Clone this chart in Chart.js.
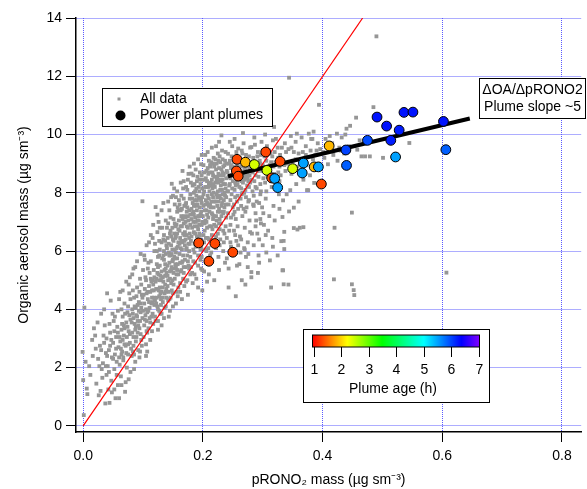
<!DOCTYPE html>
<html>
<head>
<meta charset="utf-8">
<script src="https://cdn.jsdelivr.net/npm/chart.js@4.4.0/dist/chart.umd.min.js"></script>
<style>
  html, body { margin: 0; padding: 0; background: #fff; }
  #wrap { width: 587px; height: 489px; }
</style>
</head>
<body>
<div id="wrap"><canvas id="chart" width="587" height="489"></canvas></div>
<script>
// ---------- Data ----------
const xTicks = [0, 0.2, 0.4, 0.6, 0.8];
const yTicks = [0, 2, 4, 6, 8, 10, 12, 14];
const ageTicks = [1, 2, 3, 4, 5, 6, 7];

// all data (pRONO2, OA)
const allData = [
  [0.001,0.37],[0.000,1.57],[0.006,1.28],[0.007,1.09],[-0.001,2.54],[0.002,4.06],[0.010,2.05],[0.015,2.95],[0.012,1.75],[0.018,3.35],[0.004,2.20],
  [0.022,1.45],[0.025,2.30],[0.028,2.75],[0.031,1.95],[0.034,3.10],[0.037,0.77],[0.038,2.50],[0.024,3.55],[0.033,2.15],[0.029,1.20],[0.036,3.45],[0.039,1.75],
  [0.044,0.79],[0.041,2.05],[0.043,2.60],[0.045,3.20],[0.047,1.55],[0.048,2.35],[0.050,2.85],[0.051,3.60],[0.052,1.95],[0.053,2.45],[0.055,3.05],[0.056,2.20],[0.057,3.40],[0.058,1.40],[0.059,2.70],[0.046,4.30],[0.054,0.95],[0.049,3.85],[0.042,1.25],[0.058,3.95],
  [0.061,2.10],[0.062,2.90],[0.063,1.70],[0.064,3.30],[0.065,2.55],[0.066,3.75],[0.067,2.25],[0.068,3.10],[0.069,4.20],[0.070,1.17],[0.071,2.75],[0.072,3.55],[0.073,2.00],[0.074,3.90],[0.075,2.45],[0.076,3.25],[0.077,4.55],[0.078,2.85],[0.079,3.65],[0.062,4.60],[0.071,1.50],[0.068,3.45],[0.075,4.10],[0.064,2.45],[0.079,1.85],
  [0.081,2.40],[0.082,3.20],[0.083,3.85],[0.084,2.75],[0.085,4.40],[0.086,3.50],[0.087,2.20],[0.088,4.05],[0.089,3.05],[0.090,4.75],[0.091,3.60],[0.092,2.60],[0.093,4.25],[0.094,3.35],[0.095,5.05],[0.096,3.90],[0.097,2.95],[0.098,4.50],[0.099,3.70],[0.099,7.71],[0.082,5.20],[0.085,1.95],[0.088,3.40],[0.091,4.15],[0.094,2.35],[0.097,4.85],[0.083,4.65],[0.089,3.80],[0.096,3.15],[0.087,5.45],
  [0.101,3.05],[0.102,4.20],[0.103,3.65],[0.104,5.10],[0.105,2.80],[0.106,4.55],[0.107,3.90],[0.108,5.40],[0.109,3.35],[0.110,4.80],[0.111,4.05],[0.112,2.95],[0.113,5.65],[0.114,3.75],[0.115,4.40],[0.116,5.00],[0.117,3.50],[0.118,4.65],[0.119,6.00],[0.119,4.15],[0.104,3.80],[0.108,4.35],[0.112,3.55],[0.116,4.25],[0.103,5.70],[0.107,2.55],[0.111,5.25],[0.115,3.25],[0.118,5.35],[0.110,6.30],[0.106,3.25],[0.114,4.95],
  [0.121,7.51],[0.121,3.60],[0.122,4.70],[0.123,5.55],[0.124,4.10],[0.125,3.30],[0.126,5.20],[0.127,4.45],[0.128,6.05],[0.129,3.85],[0.130,5.00],[0.131,4.60],[0.132,5.75],[0.133,4.25],[0.134,6.40],[0.135,3.70],[0.136,5.35],[0.137,4.85],[0.138,5.90],[0.139,4.40],[0.124,6.65],[0.127,3.95],[0.130,4.35],[0.133,5.10],[0.136,4.05],[0.139,6.20],[0.122,5.05],[0.125,5.80],[0.128,4.75],[0.131,3.45],[0.134,4.95],[0.137,5.55],[0.126,7.00],[0.132,6.80],[0.138,4.60],
  [0.141,5.15],[0.142,4.30],[0.143,6.25],[0.144,5.60],[0.145,3.95],[0.146,6.70],[0.147,4.90],[0.148,8.31],[0.148,5.45],[0.149,6.05],[0.150,4.55],[0.151,7.10],[0.152,5.80],[0.153,5.05],[0.154,6.45],[0.155,4.20],[0.156,6.90],[0.157,5.35],[0.158,6.15],[0.159,4.75],[0.142,6.95],[0.145,5.30],[0.148,4.65],[0.151,6.35],[0.154,5.55],[0.157,7.35],[0.143,3.75],[0.146,5.85],[0.149,5.00],[0.152,6.60],[0.155,5.95],[0.158,4.45],[0.144,7.40],[0.147,6.50],[0.150,5.70],[0.153,7.60],[0.156,5.20],[0.159,6.75],[0.141,4.80],[0.155,7.85],
  [0.161,5.90],[0.162,4.60],[0.163,6.85],[0.164,5.35],[0.165,7.45],[0.166,6.30],[0.167,5.05],[0.168,7.80],[0.169,6.55],[0.170,5.70],[0.171,7.15],[0.172,4.95],[0.173,6.10],[0.174,8.10],[0.175,6.80],[0.176,5.50],[0.177,7.40],[0.178,6.25],[0.179,5.20],[0.179,7.95],[0.162,6.45],[0.164,7.20],[0.166,5.65],[0.168,6.95],[0.170,6.20],[0.172,7.65],[0.174,5.85],[0.176,7.05],[0.178,6.60],[0.161,7.60],[0.163,5.30],[0.165,6.05],[0.167,8.15],[0.169,4.80],[0.171,6.40],[0.173,7.35],[0.175,4.50],[0.177,6.00],[0.163,8.35],[0.169,7.55],[0.175,8.45],[0.179,5.80],[0.165,4.35],[0.171,5.45],
  [0.181,8.66],[0.181,6.50],[0.182,5.25],[0.183,7.30],[0.184,6.05],[0.185,8.00],[0.186,6.85],[0.187,5.60],[0.188,7.60],[0.189,6.35],[0.190,8.40],[0.191,7.05],[0.192,5.85],[0.193,7.85],[0.194,6.60],[0.195,8.70],[0.196,7.25],[0.197,8.98],[0.197,5.40],[0.198,6.90],[0.199,8.15],[0.182,7.80],[0.184,7.00],[0.186,8.30],[0.188,6.15],[0.190,7.40],[0.192,6.75],[0.194,8.05],[0.196,6.40],[0.198,7.65],[0.183,4.90],[0.185,6.65],[0.187,7.15],[0.189,5.05],[0.191,8.55],[0.193,6.25],[0.195,7.50],[0.197,6.10],[0.199,7.00],[0.184,8.60],[0.188,8.80],[0.192,4.75],[0.196,5.70],[0.186,5.95],[0.194,7.20],[0.199,5.35],[0.181,7.45],[0.189,7.90],
  [0.201,7.55],[0.202,6.30],[0.203,8.45],[0.204,7.05],[0.205,5.60],[0.206,8.75],[0.207,6.80],[0.208,7.90],[0.209,6.10],[0.210,8.30],[0.211,7.35],[0.212,5.85],[0.213,8.90],[0.214,7.70],[0.215,6.55],[0.216,8.15],[0.217,7.10],[0.218,9.20],[0.219,6.90],[0.219,8.55],[0.201,8.95],[0.203,6.70],[0.205,7.75],[0.207,8.40],[0.209,7.15],[0.211,8.70],[0.213,6.40],[0.215,7.95],[0.217,8.60],[0.202,5.30],[0.204,8.20],[0.206,7.40],[0.208,6.45],[0.210,9.10],[0.212,7.60],[0.214,5.95],[0.216,7.25],[0.218,8.00],[0.220,6.20],[0.206,6.00],[0.212,8.25],[0.218,7.50],[0.204,9.30],[0.214,9.05],[0.210,5.20],
  [0.221,8.35],[0.222,7.20],[0.223,9.00],[0.224,7.85],[0.225,6.60],[0.226,8.65],[0.227,7.45],[0.228,9.25],[0.229,8.10],[0.230,6.95],[0.231,9.97],[0.231,8.80],[0.232,7.65],[0.233,9.15],[0.234,8.30],[0.235,6.30],[0.236,8.95],[0.237,7.90],[0.238,9.40],[0.239,8.50],[0.222,6.10],[0.224,8.55],[0.226,7.70],[0.228,6.75],[0.230,8.25],[0.232,9.45],[0.234,7.30],[0.236,8.00],[0.238,6.85],[0.223,7.95],[0.225,9.35],[0.227,8.45],[0.229,6.40],[0.231,7.55],[0.233,8.70],[0.235,7.75],[0.237,5.60],[0.239,7.15],[0.226,5.80],[0.234,6.00],[0.240,5.75],
  [0.241,8.70],[0.242,9.34],[0.243,7.60],[0.244,8.25],[0.245,9.10],[0.246,6.90],[0.247,8.85],[0.248,7.95],[0.249,9.60],[0.250,8.40],[0.251,7.25],[0.252,9.05],[0.253,8.10],[0.254,6.55],[0.255,8.65],[0.256,9.40],[0.257,7.70],[0.258,8.30],[0.259,9.52],[0.259,6.20],[0.242,8.05],[0.244,6.70],[0.246,8.50],[0.248,9.25],[0.250,7.50],[0.252,8.80],[0.254,7.85],[0.256,6.35],[0.258,8.95],[0.243,5.40],[0.247,6.15],[0.251,5.90],[0.255,7.10],[0.257,5.50],[0.245,9.75],[0.253,9.85],[0.265,5.00],
  [0.261,8.55],[0.262,9.15],[0.263,7.80],[0.264,8.90],[0.265,9.45],[0.266,7.20],[0.267,8.35],[0.268,9.70],[0.269,8.00],[0.270,6.80],[0.271,8.75],[0.272,9.30],[0.273,7.50],[0.274,8.60],[0.275,6.30],[0.276,9.05],[0.277,8.20],[0.278,7.05],[0.279,9.55],[0.262,6.50],[0.264,8.15],[0.266,9.35],[0.268,7.45],[0.270,8.45],[0.272,5.80],[0.274,9.00],[0.276,7.70],[0.278,8.85],[0.263,5.95],[0.269,6.10],[0.275,5.45],[0.279,6.65],[0.281,9.57],[0.281,5.28],[0.281,5.10],[0.267,10.05],
  [0.283,8.70],[0.284,9.20],[0.285,7.90],[0.286,8.40],[0.287,9.65],[0.288,7.30],[0.289,8.95],[0.290,8.15],[0.291,6.60],[0.292,9.40],[0.293,8.55],[0.294,7.65],[0.295,9.10],[0.296,8.30],[0.297,6.95],[0.298,9.75],[0.299,8.75],[0.285,6.20],[0.289,7.05],[0.293,5.85],[0.297,8.05],[0.286,9.90],[0.294,6.40],[0.299,7.50],
  [0.301,8.50],[0.303,9.25],[0.305,7.80],[0.307,9.60],[0.309,8.90],[0.311,7.20],[0.312,5.68],[0.313,9.35],[0.314,4.75],[0.315,8.20],[0.317,9.80],[0.319,10.26],[0.319,8.65],[0.302,6.90],[0.306,8.05],[0.310,9.45],[0.314,8.40],[0.318,7.55],[0.304,10.00],[0.316,6.45],
  [0.321,9.05],[0.323,8.35],[0.325,9.55],[0.327,7.95],[0.329,9.30],[0.331,6.34],[0.333,5.34],[0.333,7.17],[0.334,7.74],[0.335,4.86],[0.335,6.35],[0.336,6.66],[0.336,6.07],[0.334,5.34],[0.337,9.70],[0.338,8.75],[0.322,9.85],[0.326,8.70],[0.330,9.00],[0.339,9.40],
  [0.343,4.85],[0.344,7.36],[0.344,11.95],[0.346,8.09],[0.348,9.55],[0.350,9.10],[0.352,7.49],[0.352,6.79],[0.355,9.75],[0.357,10.03],[0.358,6.74],[0.360,9.35],[0.362,6.80],[0.365,9.90],[0.368,6.82],[0.370,9.20],[0.372,9.60],[0.374,8.09],[0.376,8.09],[0.377,10.03],[0.380,9.45],[0.383,9.85],[0.386,8.34],[0.388,9.30],[0.392,9.70],[0.394,11.02],[0.396,9.50],[0.347,9.95],[0.363,9.05],[0.385,10.10],
  [0.401,9.40],[0.405,9.85],[0.409,8.98],[0.412,9.95],[0.419,5.03],[0.420,6.80],[0.424,10.03],[0.428,9.55],[0.432,9.90],[0.438,10.00],[0.440,10.20],[0.444,9.60],[0.449,7.32],[0.449,4.86],[0.452,4.66],[0.453,4.49],[0.456,10.58],[0.458,9.48],[0.465,9.25],[0.471,9.25],[0.479,9.25],[0.485,10.94],[0.490,13.37],[0.501,9.20],[0.545,9.71],[0.607,5.26],[0.416,9.70],[0.436,9.35],[0.446,10.30],[0.462,9.80]
];

// denser core of the cloud
const allDataCore = [
  [0.030,2.60],[0.035,2.85],[0.040,2.40],[0.045,2.75],[0.050,2.30],[0.055,2.65],[0.058,3.20],[0.032,1.65],[0.038,2.05],[0.043,1.85],[0.047,2.95],[0.052,3.25],[0.056,1.75],[0.027,2.05],[0.021,2.65],[0.016,2.40],[0.048,1.15],[0.053,3.75],[0.044,3.50],[0.039,3.00],
  [0.060,2.35],[0.063,2.65],[0.066,2.95],[0.069,3.35],[0.072,2.50],[0.075,2.80],[0.078,3.15],[0.081,3.55],[0.084,3.05],[0.087,3.30],[0.090,3.75],[0.093,3.95],[0.096,4.20],[0.099,4.40],[0.102,3.45],[0.105,4.00],[0.108,4.60],[0.111,3.70],[0.114,4.20],[0.117,4.85],[0.120,4.30],[0.061,3.05],[0.065,3.50],[0.070,3.85],[0.074,3.40],[0.079,4.35],[0.083,2.55],[0.086,4.10],[0.091,3.20],[0.095,3.60],[0.098,2.75],[0.103,4.70],[0.107,3.20],[0.112,4.60],[0.116,3.85],[0.119,5.10],[0.067,2.35],[0.073,3.05],[0.077,3.80],[0.082,4.00],[0.088,2.90],[0.092,3.45],[0.097,4.05],[0.101,4.50],[0.106,3.60],[0.110,4.25],[0.113,5.05],[0.118,4.40],[0.064,4.00],[0.069,2.80],[0.076,4.85],[0.084,3.70],[0.089,4.45],[0.094,4.60],[0.100,3.95],[0.105,5.00],[0.109,3.95],[0.115,4.65],[0.120,3.75],[0.080,2.65],
  [0.121,4.95],[0.123,4.40],[0.125,5.45],[0.127,5.00],[0.129,4.55],[0.131,5.30],[0.133,4.75],[0.135,5.70],[0.137,5.15],[0.139,4.70],[0.141,5.50],[0.143,5.95],[0.145,5.05],[0.147,6.20],[0.149,5.65],[0.151,5.25],[0.153,6.05],[0.155,6.50],[0.157,5.75],[0.159,6.30],[0.161,6.70],[0.163,6.10],[0.165,6.85],[0.167,5.85],[0.169,6.35],[0.171,7.00],[0.173,6.55],[0.175,7.20],[0.177,6.45],[0.179,6.90],
  [0.122,4.20],[0.124,5.25],[0.126,4.65],[0.128,5.50],[0.130,4.15],[0.132,5.10],[0.134,5.85],[0.136,4.55],[0.138,5.40],[0.140,6.10],[0.142,5.00],[0.144,5.85],[0.146,4.40],[0.148,5.90],[0.150,6.40],[0.152,5.40],[0.154,6.85],[0.156,6.10],[0.158,5.55],[0.160,7.05],[0.162,5.60],[0.164,6.35],[0.166,7.10],[0.168,5.45],[0.170,6.65],[0.172,6.05],[0.174,7.50],[0.176,6.25],[0.178,7.80],[0.180,6.35],
  [0.123,6.00],[0.127,5.85],[0.131,6.30],[0.135,6.00],[0.139,5.25],[0.143,4.60],[0.147,5.35],[0.151,4.85],[0.155,5.45],[0.159,5.20],[0.163,7.40],[0.167,6.60],[0.171,7.60],[0.175,5.65],[0.179,7.25],[0.125,4.00],[0.133,4.40],[0.141,6.45],[0.149,6.80],[0.157,6.60],[0.165,5.60],[0.173,6.85],[0.177,5.40],[0.137,6.35],[0.145,6.60],[0.153,5.75],[0.161,6.25],[0.169,7.20],[0.129,5.15],[0.159,7.40],
  [0.181,7.10],[0.183,7.65],[0.185,7.25],[0.187,8.05],[0.189,7.55],[0.191,6.85],[0.193,8.20],[0.195,7.80],[0.197,7.35],[0.199,8.45],[0.201,7.95],[0.203,7.40],[0.205,8.50],[0.207,7.65],[0.209,8.65],[0.211,8.05],[0.213,7.50],[0.215,8.45],[0.217,7.85],[0.219,8.90],[0.221,7.70],[0.223,8.45],[0.225,8.05],[0.227,8.85],[0.229,7.35],[0.231,8.40],[0.233,7.95],[0.235,8.65],[0.237,8.30],[0.239,9.00],
  [0.182,6.80],[0.184,7.35],[0.186,7.75],[0.188,7.00],[0.190,7.75],[0.192,7.20],[0.194,6.90],[0.196,8.30],[0.198,8.60],[0.200,7.20],[0.202,8.05],[0.204,7.60],[0.206,8.20],[0.208,8.85],[0.210,7.80],[0.212,8.95],[0.214,8.25],[0.216,8.70],[0.218,7.20],[0.220,8.20],[0.222,8.80],[0.224,7.55],[0.226,8.35],[0.228,7.90],[0.230,8.60],[0.232,8.10],[0.234,8.90],[0.236,7.50],[0.238,8.15],[0.240,8.75],
  [0.183,8.25],[0.187,6.60],[0.191,7.60],[0.195,6.55],[0.199,7.85],[0.203,6.95],[0.207,7.25],[0.211,6.85],[0.215,7.30],[0.219,7.70],[0.223,7.05],[0.227,6.95],[0.231,7.20],[0.235,7.35],[0.239,7.85],[0.185,7.55],[0.189,8.15],[0.193,7.05],[0.197,7.75],[0.201,6.55],[0.205,6.45],[0.209,8.20],[0.213,8.35],[0.217,9.00],[0.221,9.15],[0.225,7.35],[0.229,9.05],[0.233,8.45],[0.237,9.10],
  [0.186,6.25],[0.194,8.45],[0.202,8.70],[0.210,7.55],[0.218,8.30],[0.226,9.10],[0.234,8.60],[0.190,6.50],[0.198,6.35],[0.206,7.00],[0.214,6.85],[0.222,6.50],[0.230,7.80],[0.238,7.60],[0.184,5.65],[0.196,6.05],[0.208,5.75],[0.216,6.30],[0.228,6.20],[0.236,6.60],
  [0.241,8.05],[0.243,8.55],[0.245,8.30],[0.247,8.95],[0.249,8.15],[0.251,8.65],[0.253,8.85],[0.255,8.25],[0.257,9.00],[0.259,8.45],[0.261,8.20],[0.263,8.75],[0.265,8.40],[0.267,9.05],[0.269,8.55],[0.271,8.10],[0.273,8.90],[0.275,8.50],[0.277,9.25],[0.279,8.35],
  [0.242,7.30],[0.246,7.75],[0.250,8.90],[0.254,8.35],[0.258,7.90],[0.262,8.50],[0.266,8.00],[0.270,8.85],[0.274,8.25],[0.278,8.60],[0.282,8.45],[0.285,8.95],[0.288,8.60],[0.291,9.25],[0.294,8.85],[0.297,9.30],[0.300,8.95],
  [0.244,9.00],[0.248,8.60],[0.252,7.60],[0.256,8.75],[0.260,9.20],[0.264,7.55],[0.268,8.65],[0.272,7.85],[0.276,8.40],[0.280,9.00],[0.284,7.60],[0.288,8.20],[0.292,8.75],[0.296,9.00],[0.300,9.45],
  [0.247,7.15],[0.253,7.35],[0.259,7.45],[0.265,7.95],[0.271,7.35],[0.277,7.75],[0.283,8.05],[0.290,7.70],[0.296,7.95],[0.302,8.80],[0.306,9.10],[0.310,8.70],[0.314,9.05],[0.318,8.90],[0.322,8.55],[0.326,9.20],[0.330,8.60],[0.304,8.35],[0.308,8.55],[0.312,8.95],[0.316,9.25],[0.320,9.40],[0.324,9.00],[0.328,8.40]
];

// wider edges of the cloud
const allDataEdge = [
  [0.102,5.85],[0.106,6.20],[0.109,5.60],[0.113,6.55],[0.117,6.90],[0.120,6.25],[0.124,7.25],[0.128,6.80],[0.131,7.40],[0.135,6.55],[0.138,7.05],[0.142,7.70],[0.146,7.15],[0.150,7.90],[0.153,6.95],[0.157,8.05],[0.160,7.75],[0.164,7.90],[0.168,8.40],[0.172,8.20],[0.176,8.65],[0.180,8.35],[0.116,6.45],[0.127,6.35],[0.134,7.65],[0.140,6.80],[0.147,7.85],[0.152,8.15],[0.158,7.50],[0.166,8.75],[0.178,8.90],[0.185,9.00],[0.192,9.15],[0.198,9.30],[0.208,9.40],[0.215,9.55],[0.222,9.60],[0.227,9.75],
  [0.125,3.60],[0.131,3.85],[0.138,4.10],[0.144,4.35],[0.150,4.10],[0.156,4.60],[0.162,4.90],[0.168,5.25],[0.174,5.00],[0.180,5.45],[0.186,5.20],[0.192,5.50],[0.198,5.80],[0.204,6.05],[0.210,6.40],[0.216,6.75],[0.222,6.85],[0.228,7.10],[0.234,6.70],[0.240,6.45],[0.246,6.30],[0.252,6.70],[0.258,6.85],[0.264,6.40],[0.270,6.05],[0.276,5.90],[0.282,6.60],[0.288,6.85],[0.294,5.60],[0.300,6.20],[0.306,5.95],[0.292,5.25],[0.301,7.30],[0.309,6.70],[0.317,6.15],[0.325,5.85],[0.243,4.75],[0.227,5.35],[0.219,5.00],[0.261,5.55],[0.271,4.85],[0.255,4.45],[0.199,4.65],[0.207,4.95],[0.285,7.55],[0.296,7.10],[0.305,6.55],[0.320,7.05],[0.328,7.45],[0.340,7.95],[0.356,8.30],[0.368,8.45],[0.360,7.70],
  [0.342,9.00],[0.348,8.65],[0.355,9.15],[0.361,8.75],[0.367,9.40],[0.373,8.95],[0.379,8.60],[0.384,9.15],[0.390,9.45],[0.397,8.85],[0.403,9.20],[0.410,9.55],[0.418,9.30],[0.425,9.10],[0.430,9.45],[0.343,9.50],[0.352,9.40],[0.358,8.90],[0.372,9.30],[0.381,9.85],[0.336,8.95],[0.332,9.55],[0.328,8.90],
  [0.060,4.35],[0.066,4.65],[0.072,4.95],[0.078,5.10],[0.084,5.40],[0.090,5.65],[0.096,5.90],[0.100,5.35],[0.035,4.00],[0.040,4.55],[0.030,3.85],[0.020,3.10],[0.026,1.05],[0.052,1.25],[0.064,1.40],[0.060,0.95],[0.076,1.60],[0.085,2.45],[0.095,2.55],[0.105,2.40]
];

// power plant plumes
const plumeX   = [0.257,0.271,0.286,0.305,0.256,0.259,0.307,0.329,0.315,0.320,0.325,0.368,0.366,0.350,0.386,0.393,0.398,0.411,0.439,0.440,0.475,0.491,0.507,0.514,0.528,0.522,0.536,0.551,0.602,0.606,0.193,0.220,0.250,0.210];
const plumeY   = [9.15,9.05,8.97,9.40,8.75,8.57,8.77,9.08,8.51,8.49,8.18,9.02,8.68,8.83,8.89,8.89,8.30,9.61,9.47,8.94,9.80,10.60,10.29,9.80,10.15,9.23,10.76,10.77,10.45,9.48,6.28,6.26,5.96,5.65];
const plumeAge = [1.35,1.9,2.45,1.35,1.35,1.35,2.45,1.35,1.35,5.5,5.5,5.5,5.5,2.45,1.9,5.5,1.35,1.9,6.0,5.85,5.95,6.25,6.25,6.2,6.2,5.5,6.25,6.25,6.25,5.85,1.35,1.35,1.35,1.35];

// reference lines
const oneToOneX = [0, 0.467];
const oneToOneY = [0, 14];
const plumeFitX = [0.242, 0.646];
const plumeFitY = [8.57, 10.55];

// ---------- Colour scale (plume age) ----------
const ageStops = [1, 2.25, 3.5, 5, 6.35, 7];
const ageColors = [[255,0,0],[255,255,0],[0,255,0],[0,255,255],[0,0,255],[128,0,255]];

function ageColor(a) {
  for (let i = 0; i < ageStops.length - 1; i++) {
    if (a <= ageStops[i+1]) {
      const t = Math.max(0, (a - ageStops[i]) / (ageStops[i+1] - ageStops[i]));
      const c0 = ageColors[i], c1 = ageColors[i+1];
      const c = c0.map((v, k) => Math.round(v + (c1[k] - v) * t));
      return `rgb(${c[0]},${c[1]},${c[2]})`;
    }
  }
  const c = ageColors[ageColors.length-1];
  return `rgb(${c[0]},${c[1]},${c[2]})`;
}

const FONT = '"Liberation Sans", Arial, sans-serif';
Chart.defaults.font.family = FONT;
Chart.defaults.font.size = 14;
Chart.defaults.color = '#000';

// ---------- Legends / colour bar ----------
const boxesPlugin = {
  id: 'boxes',
  afterDraw(chart) {
    const ctx = chart.ctx;
    ctx.save();
    ctx.font = '14px ' + FONT;
    ctx.lineWidth = 1;
    ctx.strokeStyle = '#000';

    // legend
    ctx.fillStyle = '#fff';
    ctx.fillRect(102, 88, 170, 38);
    ctx.strokeRect(102.5, 88.5, 170, 38);
    ctx.fillStyle = '#969696';
    ctx.fillRect(117.5, 97.5, 3, 3);
    ctx.fillStyle = '#000';
    ctx.beginPath(); ctx.arc(120.5, 115.5, 5, 0, Math.PI * 2); ctx.fill();
    ctx.textAlign = 'left'; ctx.textBaseline = 'middle';
    ctx.fillText('All data', 140, 99);
    ctx.fillText('Power plant plumes', 140, 115.5);

    // slope box
    ctx.fillStyle = '#fff';
    ctx.fillRect(479, 78, 107, 40);
    ctx.strokeRect(479.5, 78.5, 106, 40);
    ctx.fillStyle = '#000';
    ctx.textAlign = 'center';
    ctx.fillText('\u0394OA/\u0394pRONO2', 532.5, 90);
    ctx.fillText('Plume slope ~5', 532.5, 107.5);

    // colour bar box
    ctx.fillStyle = '#fff';
    ctx.fillRect(303, 329, 186, 73);
    ctx.strokeRect(303.5, 329.5, 186, 73);
    const bx0 = 312.5, bx1 = 479.5, by = 335, bh = 12;
    const g = ctx.createLinearGradient(bx0, 0, bx1, 0);
    ageStops.forEach((a, i) => {
      const c = ageColors[i];
      g.addColorStop((a - 1) / 6, `rgb(${c[0]},${c[1]},${c[2]})`);
    });
    ctx.fillStyle = g;
    ctx.fillRect(bx0, by, bx1 - bx0, bh);
    ctx.strokeRect(bx0, by, bx1 - bx0, bh);
    ctx.fillStyle = '#000';
    ctx.textBaseline = 'middle';
    ageTicks.forEach(a => {
      const x = Math.round(313.5 + (a - 1) * 27.5) + 0.5;
      ctx.beginPath(); ctx.moveTo(x, by + bh); ctx.lineTo(x, by + bh + 10); ctx.stroke();
      ctx.fillText(String(a), x, 370);
    });
    ctx.fillText('Plume age (h)', 393, 389);
    ctx.restore();
  }
};

// ---------- Chart ----------
const ctx = document.getElementById('chart').getContext('2d');

const grayPoints = allData.concat(allDataCore, allDataEdge).map(p => ({ x: p[0], y: p[1] }));

new Chart(ctx, {
  type: 'scatter',
  data: {
    datasets: [
      {
        label: 'Power plant plumes',
        data: plumeX.map((x, i) => ({ x: x, y: plumeY[i] })),
        pointRadius: 4.9,
        pointBorderWidth: 1,
        pointBorderColor: '#000',
        pointBackgroundColor: plumeAge.map(ageColor),
        order: 0
      },
      {
        label: 'fit',
        data: plumeFitX.map((x, i) => ({ x: x, y: plumeFitY[i] })),
        showLine: true,
        borderColor: '#000',
        borderWidth: 4,
        pointRadius: 0,
        order: 1
      },
      {
        label: '1:1',
        data: oneToOneX.map((x, i) => ({ x: x, y: oneToOneY[i] })),
        showLine: true,
        borderColor: '#ff0000',
        borderWidth: 1.2,
        pointRadius: 0,
        order: 2
      },
      {
        label: 'All data',
        data: grayPoints,
        pointStyle: 'rect',
        pointRadius: 2.7,
        pointBorderWidth: 0,
        pointBackgroundColor: '#969696',
        order: 3
      }
    ]
  },
  options: {
    responsive: false,
    animation: false,
    layout: { padding: { top: 18, right: 0, bottom: 0, left: 0 } },
    plugins: { legend: { display: false }, tooltip: { enabled: false } },
    scales: {
      x: {
        type: 'linear',
        position: 'bottom',
        min: -0.012,
        max: 0.832,
        afterBuildTicks: s => { s.ticks = xTicks.map(v => ({ value: v })); },
        afterFit: s => { s.height = 57; },
        ticks: { padding: 6, callback: v => v.toFixed(1), color: '#000', font: { size: 14 } },
        grid: { color: '#5a5aff', lineWidth: 1, tickColor: '#000', tickLength: 10, tickWidth: 1, tickBorderDash: [] },
        border: { display: true, color: '#000', width: 1.5, dash: [1, 1] },
        title: { display: true, text: 'pRONO\u2082 mass (\u00b5g sm\u207b\u00b3)', color: '#000', font: { size: 14 }, padding: { top: 0, bottom: 0 } }
      },
      y: {
        type: 'linear',
        min: -0.21,
        max: 14,
        afterBuildTicks: s => { s.ticks = yTicks.map(v => ({ value: v })); },
        afterFit: s => { s.width = 76; },
        ticks: { padding: 4, color: '#000', font: { size: 14 } },
        grid: { color: '#5a5aff', lineWidth: 1, tickColor: '#000', tickLength: 10, tickWidth: 1, tickBorderDash: [] },
        border: { display: true, color: '#000', width: 1.5, dash: [1, 1] },
        title: { display: true, text: 'Organic aerosol mass (\u00b5g sm\u207b\u00b3)', color: '#000', font: { size: 14 }, padding: { top: 16, bottom: 0 } }
      }
    }
  },
  plugins: [boxesPlugin]
});
</script>
</body>
</html>
